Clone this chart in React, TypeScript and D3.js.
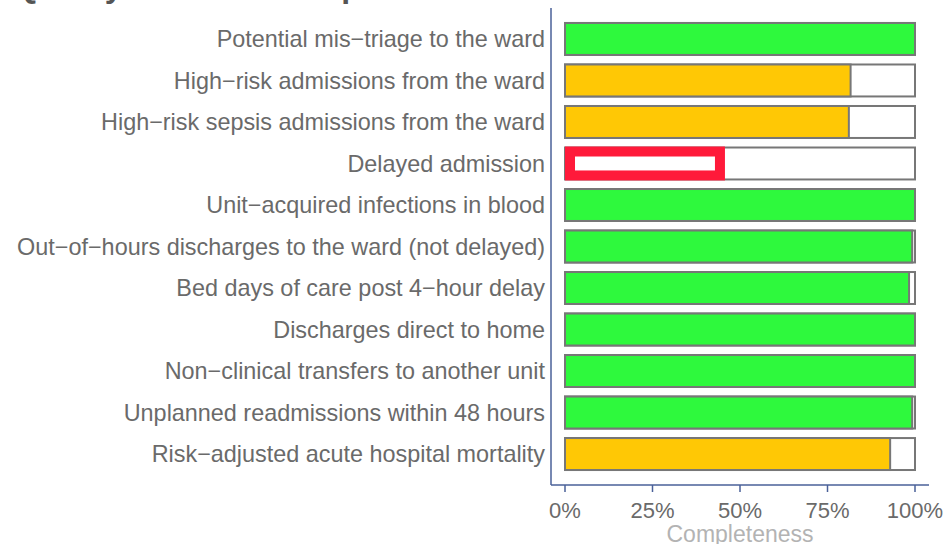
import * as d3 from "d3";

const indicators = [
  "Potential mis−triage to the ward",
  "High−risk admissions from the ward",
  "High−risk sepsis admissions from the ward",
  "Delayed admission",
  "Unit−acquired infections in blood",
  "Out−of−hours discharges to the ward (not delayed)",
  "Bed days of care post 4−hour delay",
  "Discharges direct to home",
  "Non−clinical transfers to another unit",
  "Unplanned readmissions within 48 hours",
  "Risk−adjusted acute hospital mortality",
];

const completeness = [1.0, 0.816, 0.811, 0.457, 1.0, 0.992, 0.983, 1.0, 1.0, 0.992, 0.929];

const ragStatus = ["green", "amber", "amber", "red", "green", "green", "green", "green", "green", "green", "amber"];

const tickValues = [0, 0.25, 0.5, 0.75, 1];

const W = 948;
const H = 544;
const font = "'Liberation Sans', Arial, sans-serif";
const axisColor = "#4a6099";

const fillFor: Record<string, string> = {
  green: "#2ef93d",
  amber: "#ffc805",
  red: "#ff1a3a",
};

export default function App() {
  const x = d3.scaleLinear().domain([-0.04, 1.04]).range([551, 929]);
  const y = d3.scaleBand<string>().domain(indicators).range([18, 475]).paddingInner(0.23).paddingOuter(0.12);
  const fmt = d3.format(".0%");
  const axisY = 485;

  return (
    <svg width={W} height={H} style={{ position: "absolute", left: 0, top: 0, background: "#fff" }} fontFamily={font}>
      <text x={14} y={-3} fontSize={32} fontWeight="bold" fill="#555">
        Quality indicator completeness
      </text>

      {/* left axis line */}
      <line x1={x(-0.04)} x2={x(-0.04)} y1={8} y2={axisY} stroke={axisColor} strokeWidth={1.5} />
      {/* bottom axis */}
      <line x1={x(-0.04)} x2={x(1.04)} y1={axisY} y2={axisY} stroke={axisColor} strokeWidth={1.5} />
      {tickValues.map((t) => (
        <g key={t}>
          <line x1={x(t)} x2={x(t)} y1={axisY} y2={axisY + 7} stroke={axisColor} strokeWidth={1.5} />
          <text x={x(t)} y={axisY + 33} textAnchor="middle" fontSize={22} fill="#6a6a6a">
            {fmt(t)}
          </text>
        </g>
      ))}
      <text x={x(0.5)} y={542} textAnchor="middle" fontSize={23} fill="#b3b3b3">
        Completeness
      </text>

      {indicators.map((name, i) => {
        const y0 = y(name)!;
        const bh = y.bandwidth();
        const v = completeness[i];
        const s = ragStatus[i];
        return (
          <g key={name}>
            <text x={545} y={y0 + bh / 2} dy="0.36em" textAnchor="end" fontSize={23.4} fill="#6a6a6a">
              {name}
            </text>
            <rect x={x(0)} y={y0} width={x(1) - x(0)} height={bh} fill="#fff" stroke="#777" strokeWidth={2} />
            {s === "red" ? (
              <rect
                x={x(0) + 5}
                y={y0 + 4}
                width={x(v) - x(0) - 10}
                height={bh - 8}
                fill="#fff"
                stroke={fillFor.red}
                strokeWidth={10}
              />
            ) : (
              <rect x={x(0)} y={y0} width={x(v) - x(0)} height={bh} fill={fillFor[s]} stroke="#777" strokeWidth={2} />
            )}
          </g>
        );
      })}
    </svg>
  );
}
